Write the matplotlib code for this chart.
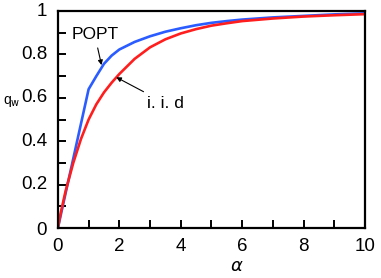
import matplotlib
matplotlib.use("Agg")
import matplotlib.pyplot as plt
from matplotlib.ticker import MultipleLocator

plt.rcParams["font.family"] = ["Liberation Sans", "DejaVu Sans"]

# overlap q_w versus alpha
alpha_popt = [0, 0.5, 1.0, 1.25, 1.5, 1.75, 2.0, 2.5, 3.0, 3.5, 4.0, 4.5,
              5.0, 5.5, 6.0, 7.0, 8.0, 9.0, 10.0]
q_popt = [0, 0.32, 0.64, 0.70, 0.757, 0.795, 0.823, 0.858, 0.884, 0.905,
          0.921, 0.935, 0.946, 0.954, 0.961, 0.971, 0.978, 0.985, 0.99]

alpha_iid = [0, 0.1, 0.25, 0.5, 0.75, 1.0, 1.25, 1.5, 1.75, 2.0, 2.5, 3.0,
             3.5, 4.0, 4.5, 5.0, 5.5, 6.0, 7.0, 8.0, 9.0, 10.0]
q_iid = [0, 0.075, 0.17, 0.30, 0.41, 0.50, 0.57, 0.625, 0.67, 0.71, 0.78,
         0.833, 0.87, 0.897, 0.917, 0.933, 0.944, 0.954, 0.966, 0.975, 0.981, 0.986]

fig = plt.figure(figsize=(3.81, 2.78), dpi=100)
ax = fig.add_axes([0.152, 0.180, 0.806, 0.780])

ax.plot(alpha_popt, q_popt, color="#2a5cff", linewidth=1.9)
ax.plot(alpha_iid, q_iid, color="#ff1e1e", linewidth=1.9)

ax.set_xlim(0, 10)
ax.set_ylim(0, 1)
ax.xaxis.set_major_locator(MultipleLocator(2))
ax.xaxis.set_minor_locator(MultipleLocator(1))
ax.yaxis.set_major_locator(MultipleLocator(0.2))
ax.yaxis.set_minor_locator(MultipleLocator(0.1))
ax.set_xticklabels([])
ax.set_yticklabels([])
ax.tick_params(which="both", direction="in", length=6, width=1.4,
               top=False, right=False)

for x in range(0, 11, 2):
    ax.text(x, -0.045, str(x), ha="center", va="top", fontsize=13.5,
            transform=ax.get_xaxis_transform())
for y, lab in [(0, "0"), (0.2, "0.2"), (0.4, "0.4"), (0.6, "0.6"), (0.8, "0.8"), (1.0, "1")]:
    dy = -0.012 if y == 0 else 0
    ax.text(-0.035, y + dy, lab, ha="right", va="center", fontsize=13.5,
            transform=ax.get_yaxis_transform())

for spine in ax.spines.values():
    spine.set_linewidth(1.6)

fig.text(0.008, 0.635, "q$_\\mathrm{w}$", fontsize=10, ha="left", va="center")
fig.text(0.622, 0.04, "$\\alpha$", fontsize=13, ha="center", va="center")

ax.annotate("POPT", xy=(1.42, 0.751), xytext=(1.2, 0.89),
            fontsize=12.5, ha="center", va="center",
            arrowprops=dict(arrowstyle="-|>", color="black", lw=0.8,
                            mutation_scale=7, shrinkA=2, shrinkB=0))
ax.annotate("i. i. d", xy=(1.9, 0.695), xytext=(2.9, 0.575),
            fontsize=12.5, ha="left", va="center",
            arrowprops=dict(arrowstyle="-|>", color="black", lw=0.8,
                            mutation_scale=7, shrinkA=2, shrinkB=0))

fig.savefig("out.png", dpi=100)
